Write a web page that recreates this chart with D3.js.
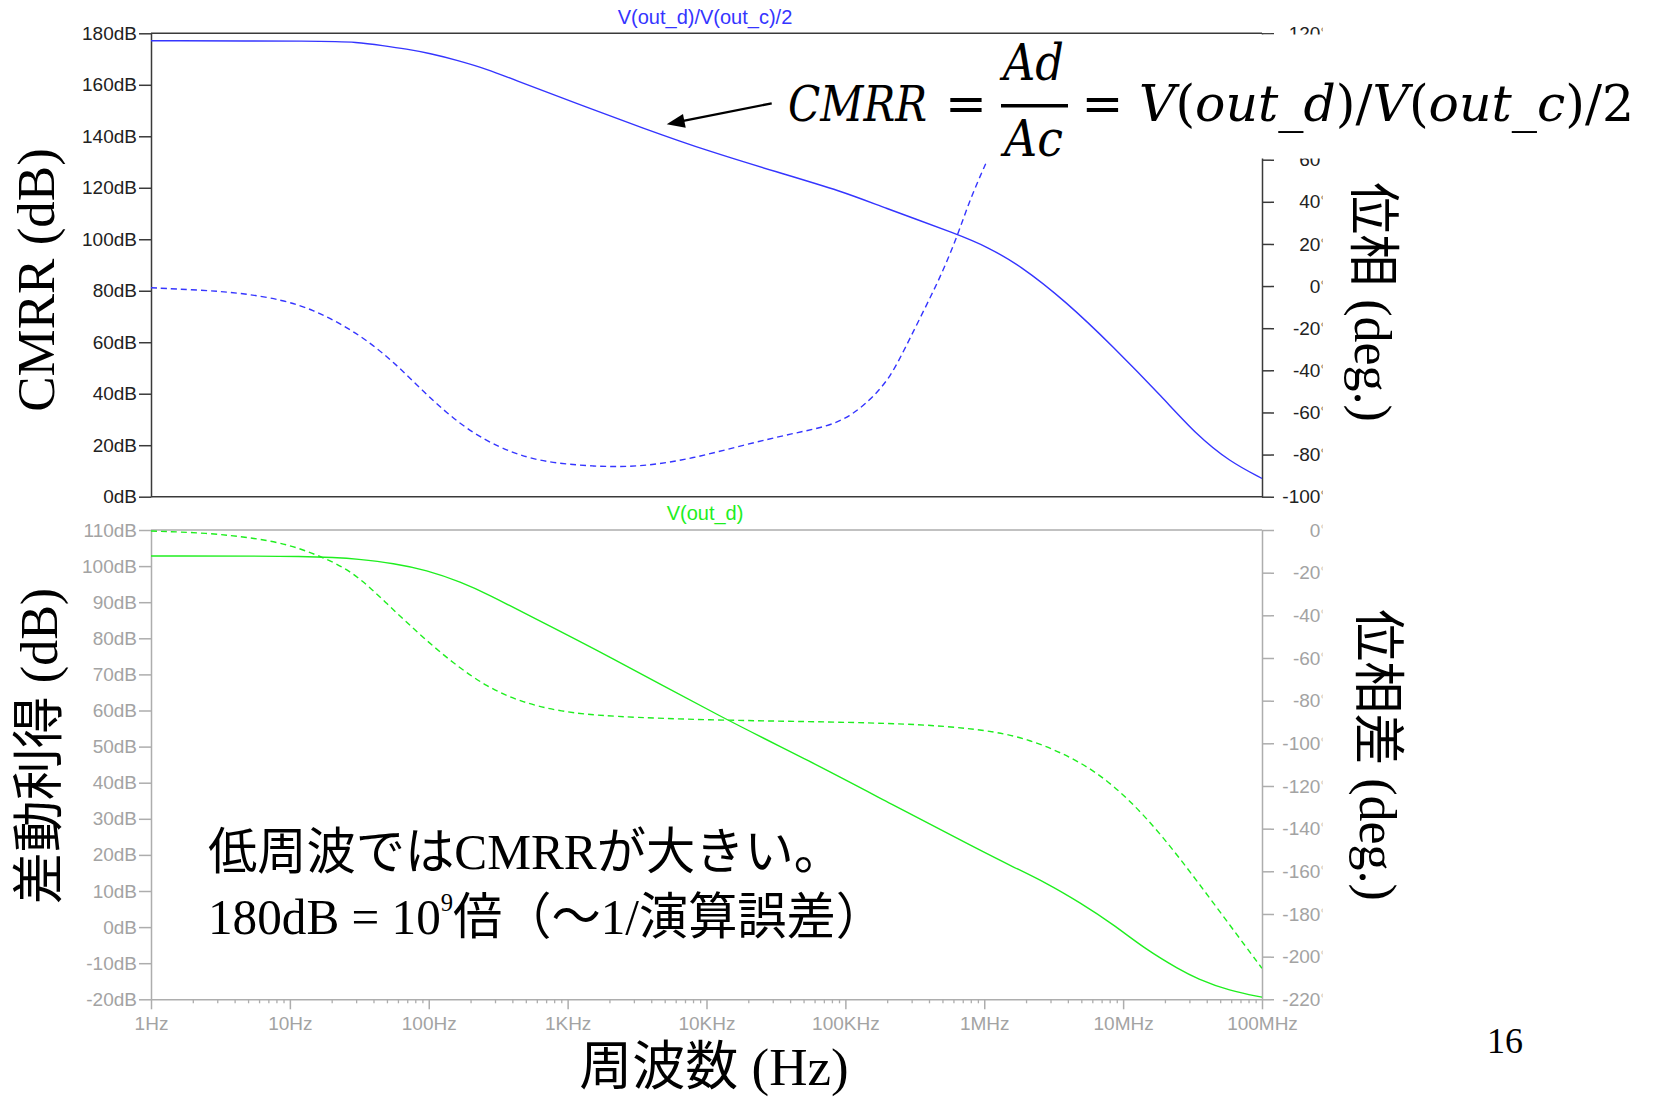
<!DOCTYPE html>
<html><head><meta charset="utf-8">
<script src="https://cdn.jsdelivr.net/npm/d3@7"></script>
<style>
html,body{margin:0;padding:0;background:#fff;}
svg{display:block;}
</style></head><body>
<svg id="chart" width="1656" height="1097"></svg>
<script>
// ---------------- DATA ----------------
const freqTickValues = [1, 10, 100, 1e3, 1e4, 1e5, 1e6, 1e7, 1e8];
const freqTickLabels = ["1Hz","10Hz","100Hz","1KHz","10KHz","100KHz","1MHz","10MHz","100MHz"];
const cmrrDbTicks = [0, 20, 40, 60, 80, 100, 120, 140, 160, 180];
const cmrrDegTicks = [-100, -80, -60, -40, -20, 0, 20, 40, 60, 120];
const gainDbTicks = [-20, -10, 0, 10, 20, 30, 40, 50, 60, 70, 80, 90, 100, 110];
const gainDegTicks = [-220, -200, -180, -160, -140, -120, -100, -80, -60, -40, -20, 0];

// CMRR magnitude  V(out_d)/V(out_c)/2  (dB)
const cmrrFreq = [1, 18, 30, 47, 69, 102, 159, 276, 385, 1160, 3500, 10600, 31900, 96400, 177000, 667000, 1040000, 1800000, 3900000, 8470000, 19500000, 33800000, 58600000, 100000000];
const cmrrDb   = [177.1, 177.0, 176.6, 175.2, 173.9, 172.2, 169.6, 165.7, 162.5, 152.8, 143.1, 134.0, 126.2, 118.5, 112.9, 101.6, 97.1, 90.0, 75.7, 58.3, 38.2, 24.0, 13.6, 7.1];

// CMRR phase (deg)
const cmrrPhFreq = [1, 2.26, 4.4, 9, 14.8, 23, 35.7, 55.6, 86.5, 135, 209, 326, 454, 667, 1530, 3500, 8020, 18400, 42100, 73100, 108000, 150000, 177000, 209000, 247000, 344000, 479000, 631000, 787000, 1040000];
const cmrrPhDeg  = [-0.8, -1.9, -3.2, -6.6, -11.4, -17.7, -25.6, -35.9, -48.5, -60.4, -69.9, -76.7, -80.2, -83.4, -85.8, -85.8, -81.8, -75.5, -69.9, -66.8, -62.0, -54.0, -49.0, -43.0, -34.5, -15.3, 3.7, 22.5, 41.0, 59.1];

// Differential gain V(out_d) (dB)
const gainFreq = [1, 16.5, 32, 55.6, 96.6, 168, 291, 385, 454, 2020, 13200, 55500, 209000, 930000, 1610000, 2810000, 4880000, 8470000, 14700000, 25600000, 33700000, 58600000, 100000000];
const gainDb   = [102.8, 102.8, 101.9, 100.8, 98.9, 95.7, 91.5, 89.0, 87.6, 74.9, 57.8, 46.0, 34.3, 21.3, 16.7, 12.2, 6.8, 0.8, -6.3, -11.8, -14.2, -17.7, -19.4];

// Differential gain phase (deg)
const gainPhFreq = [1, 2.52, 5.77, 10, 16.5, 28.6, 49.8, 86.5, 150, 261, 454, 881, 2020, 10600, 55500, 209000, 535000, 1220000, 2130000, 3700000, 6430000, 11200000, 19400000, 33700000, 58600000, 100000000];
const gainPhDeg  = [-0.5, -1.3, -3.9, -7.0, -12.2, -19.5, -34.4, -49.2, -62.5, -73.5, -80.5, -85.2, -87.5, -89.1, -89.8, -90.6, -91.9, -94.5, -98.4, -104.7, -113.3, -126.6, -143.8, -164.1, -185.2, -205.5];

// ---------------- LAYOUT ----------------
const W = 1656, H = 1097;
const X0 = 151, X1 = 1262;
const P1 = {y0: 33.3, y1: 496.7};
const P2 = {y0: 530, y1: 999.3};
const BLUE = "#3535ff", GREEN = "#1fee1f";
const DARK = "#3a3a3a", DARKTXT = "#222", GRAY = "#adadad", GRAYTXT = "#a3a3a3";
const TICKFONT = "'Liberation Sans', Arial, sans-serif";

const svg = d3.select("#chart");
svg.append("rect").attr("width", W).attr("height", H).attr("fill", "#fff");

const defs = svg.append("defs");
defs.append("clipPath").attr("id", "clip1").append("rect").attr("x", X0).attr("y", P1.y0).attr("width", X1 - X0).attr("height", P1.y1 - P1.y0);
defs.append("clipPath").attr("id", "clip2").append("rect").attr("x", X0).attr("y", P2.y0).attr("width", X1 - X0).attr("height", P2.y1 - P2.y0);
defs.append("clipPath").attr("id", "clipR").append("rect").attr("x", 0).attr("y", 0).attr("width", 1322.5).attr("height", H);

const x = d3.scaleLog().domain([1, 1e8]).range([X0, X1]);
const y1L = d3.scaleLinear().domain([0, 180]).range([P1.y1, P1.y0]);
const y1R = d3.scaleLinear().domain([-100, 120]).range([P1.y1, P1.y0]);
const y2L = d3.scaleLinear().domain([-20, 110]).range([P2.y1, P2.y0]);
const y2R = d3.scaleLinear().domain([-220, 0]).range([P2.y1, P2.y0]);

function styleAxis(g, lineColor, textColor) {
  g.selectAll("path.domain").attr("stroke", lineColor).attr("stroke-width", 1.5);
  g.selectAll(".tick line").attr("stroke", lineColor).attr("stroke-width", 1.5);
  g.selectAll(".tick text").attr("fill", textColor).attr("font-family", TICKFONT).attr("font-size", 19);
}

function panel(yL, yR, p, leftTicks, rightTicks, lineColor, textColor, withX) {
  svg.append("line").attr("x1", X0).attr("x2", X1).attr("y1", p.y0).attr("y2", p.y0)
    .attr("stroke", lineColor).attr("stroke-width", 1.5);
  if (!withX) {
    svg.append("line").attr("x1", X0).attr("x2", X1).attr("y1", p.y1).attr("y2", p.y1)
      .attr("stroke", lineColor).attr("stroke-width", 1.5);
  }
  const gl = svg.append("g").attr("transform", `translate(${X0},0)`)
    .call(d3.axisLeft(yL).tickValues(leftTicks).tickFormat(d => d + "dB").tickSize(12).tickPadding(2).tickSizeOuter(0));
  styleAxis(gl, lineColor, textColor);
  const gr = svg.append("g").attr("clip-path", "url(#clipR)").append("g").attr("transform", `translate(${X1},0)`)
    .call(d3.axisRight(yR).tickValues(rightTicks).tickFormat(d => d + "°").tickSize(12).tickSizeOuter(0));
  styleAxis(gr, lineColor, textColor);
  gr.selectAll(".tick text").attr("x", 66).attr("text-anchor", "end");
  if (withX) {
    const gx = svg.append("g").attr("transform", `translate(0,${p.y1})`)
      .call(d3.axisBottom(x).tickValues(freqTickValues).tickFormat((d, i) => freqTickLabels[i]).tickSize(10).tickPadding(7).tickSizeOuter(0));
    styleAxis(gx, lineColor, textColor);
    const minor = [];
    freqTickValues.slice(0, -1).forEach(d => { for (let k = 2; k <= 9; k++) minor.push(d * k); });
    const gm = svg.append("g").attr("transform", `translate(0,${p.y1})`)
      .call(d3.axisBottom(x).tickValues(minor).tickFormat("").tickSize(4).tickSizeOuter(0));
    gm.selectAll("path.domain").remove();
    gm.selectAll(".tick line").attr("stroke", lineColor).attr("stroke-width", 1.3);
  }
}

panel(y1L, y1R, P1, cmrrDbTicks, cmrrDegTicks, DARK, DARKTXT, false);
panel(y2L, y2R, P2, gainDbTicks, gainDegTicks, GRAY, GRAYTXT, true);

function drawSeries(clip, fs, vs, ys, color, dash) {
  const pts = fs.map((f, i) => [f, vs[i]]);
  svg.append("g").attr("clip-path", `url(#${clip})`).append("path").datum(pts)
    .attr("d", d3.line().x(d => x(d[0])).y(d => ys(d[1])).curve(d3.curveBasis))
    .attr("fill", "none").attr("stroke", color).attr("stroke-width", 1.4)
    .attr("stroke-dasharray", dash || null);
}
drawSeries("clip1", cmrrFreq, cmrrDb, y1L, BLUE);
drawSeries("clip1", cmrrPhFreq, cmrrPhDeg, y1R, BLUE, "6,4");
drawSeries("clip2", gainFreq, gainDb, y2L, GREEN);
drawSeries("clip2", gainPhFreq, gainPhDeg, y2R, GREEN, "6,4");

// trace titles
svg.append("text").attr("x", 705).attr("y", 24).attr("text-anchor", "middle")
  .attr("font-family", TICKFONT).attr("font-size", 20).attr("fill", BLUE).text("V(out_d)/V(out_c)/2");
svg.append("text").attr("x", 705).attr("y", 520).attr("text-anchor", "middle")
  .attr("font-family", TICKFONT).attr("font-size", 20).attr("fill", GREEN).text("V(out_d)");

// white box behind formula
svg.append("rect").attr("x", 770).attr("y", 34.5).attr("width", W - 770).attr("height", 124).attr("fill", "#fff");

// formula
const fg = svg.append("g").attr("font-family", "'DejaVu Serif', serif").attr("font-size", 50).attr("fill", "#000");
fg.append("text").attr("x", 788).attr("y", 121).attr("font-style", "italic").attr("font-size", 48)
  .attr("textLength", 139).attr("lengthAdjust", "spacingAndGlyphs").text("CMRR");
fg.append("text").attr("x", 966).attr("y", 121).attr("text-anchor", "middle").text("=");
fg.append("text").attr("x", 1003).attr("y", 80).attr("font-style", "italic")
  .attr("textLength", 61).attr("lengthAdjust", "spacingAndGlyphs").text("Ad");
fg.append("rect").attr("x", 1001).attr("y", 104).attr("width", 67).attr("height", 3.5).attr("fill", "#000");
fg.append("text").attr("x", 1004).attr("y", 156).attr("font-style", "italic")
  .attr("textLength", 59).attr("lengthAdjust", "spacingAndGlyphs").text("Ac");
fg.append("text").attr("x", 1102.5).attr("y", 121).attr("text-anchor", "middle").text("=");
const expr = fg.append("text").attr("x", 1139).attr("y", 121)
  .attr("textLength", 495).attr("lengthAdjust", "spacingAndGlyphs");
[["V",1],["(",0],["out",1],["_",0],["d",1],[")",0],["/",0],["V",1],["(",0],["out",1],["_",0],["c",1],[")",0],["/",0],["2",0]]
  .forEach(([t, it]) => expr.append("tspan").attr("font-style", it ? "italic" : "normal").text(t));

// arrow
svg.append("line").attr("x1", 771.7).attr("y1", 103.3).attr("x2", 682).attr("y2", 121.2)
  .attr("stroke", "#000").attr("stroke-width", 2.3);
(function () {
  const tx = 666.7, ty = 124.3, ang = Math.atan2(103.3 - ty, 771.7 - tx), L = 18, hw = 7;
  const bx = tx + L * Math.cos(ang), by = ty + L * Math.sin(ang);
  const px = -Math.sin(ang) * hw, py = Math.cos(ang) * hw;
  svg.append("path").attr("d", `M${tx},${ty}L${bx + px},${by + py}L${bx - px},${by - py}Z`).attr("fill", "#000");
})();

// axis titles
const SERIF_CJK = "'Liberation Serif', 'Times New Roman', 'Noto Sans CJK JP', serif";
svg.append("text").attr("transform", "translate(54,280) rotate(-90)").attr("text-anchor", "middle")
  .attr("font-family", SERIF_CJK).attr("font-size", 53).text("CMRR (dB)");
svg.append("text").attr("transform", "translate(57,746) rotate(-90)").attr("text-anchor", "middle")
  .attr("font-family", SERIF_CJK).attr("font-size", 52).text("差動利得 (dB)");
svg.append("text").attr("transform", "translate(1355,302) rotate(90)").attr("text-anchor", "middle")
  .attr("font-family", SERIF_CJK).attr("font-size", 52).text("位相 (deg.)");
svg.append("text").attr("transform", "translate(1360,755) rotate(90)").attr("text-anchor", "middle")
  .attr("font-family", SERIF_CJK).attr("font-size", 52).text("位相差 (deg.)");
svg.append("text").attr("x", 714).attr("y", 1085).attr("text-anchor", "middle")
  .attr("font-family", SERIF_CJK).attr("font-size", 53).text("周波数 (Hz)");

// annotation
svg.append("text").attr("x", 208).attr("y", 869).attr("font-family", SERIF_CJK).attr("font-size", 50)
  .attr("textLength", 635).attr("lengthAdjust", "spacingAndGlyphs").text("低周波ではCMRRが大きい。");
const l2 = svg.append("text").attr("x", 208).attr("y", 934).attr("font-family", SERIF_CJK).attr("font-size", 50)
  .attr("textLength", 677).attr("lengthAdjust", "spacingAndGlyphs");
l2.append("tspan").text("180dB = 10");
l2.append("tspan").attr("font-size", 25).attr("dy", -23).text("9");
l2.append("tspan").attr("dy", 23).text("倍（〜1/演算誤差）");

// page number
svg.append("text").attr("x", 1505).attr("y", 1053).attr("text-anchor", "middle")
  .attr("font-family", SERIF_CJK).attr("font-size", 36).text("16");
</script>
</body></html>
